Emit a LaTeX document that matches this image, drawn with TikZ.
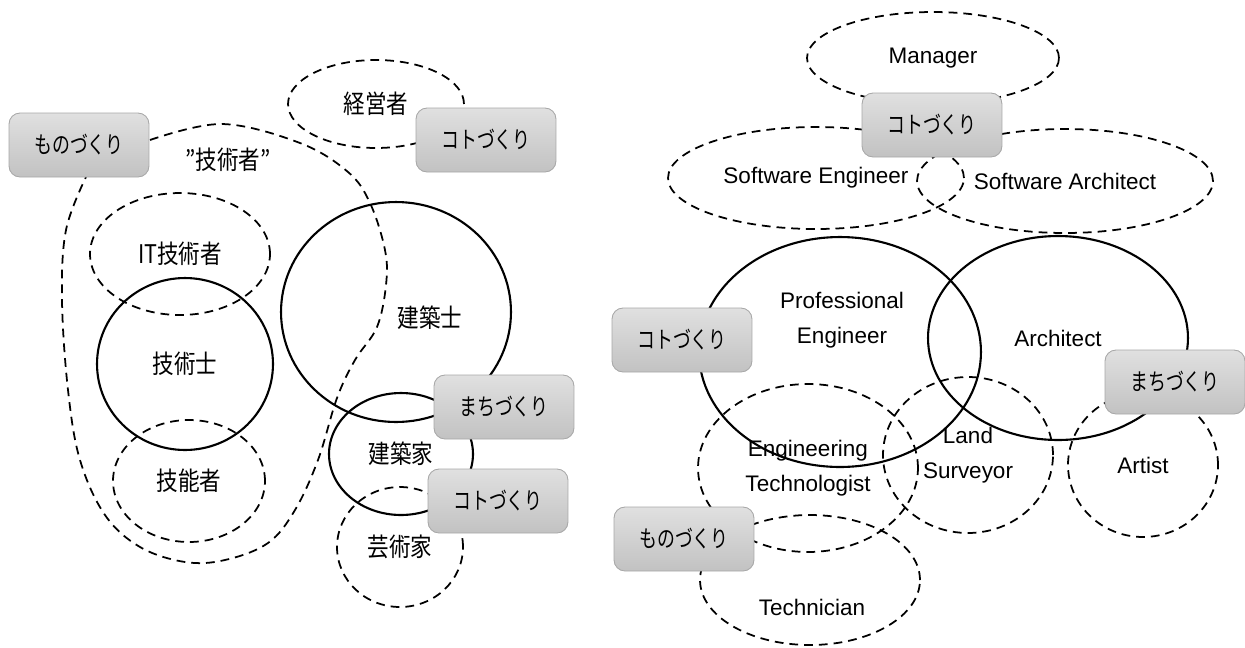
\documentclass[tikz,border=0pt]{standalone}
\usepackage{fontspec}
\setmainfont{Liberation Sans}
\newfontfamily\jpfont[FakeStretch=0.84]{Noto Sans CJK JP}
\newfontfamily\tagfont[FakeStretch=0.76]{Noto Sans CJK JP}
\usetikzlibrary{shapes.geometric}
\definecolor{tagTop}{RGB}{224,224,224}
\definecolor{tagBottom}{RGB}{194,194,194}
\definecolor{tagLine}{RGB}{168,168,168}
\tikzset{
    base/.style={
        font=\fontsize{12.8}{20}\selectfont,
        align=center,
        text=black
    },
    jp/.style={
        font=\jpfont\fontsize{14.6}{16}\selectfont
    },
    ring/.style={
        base,
        ellipse,
        draw=black,
        line width=1.2pt,
        inner sep=0pt
    },
    dashring/.style={
        base,
        ellipse,
        draw=black,
        line width=1pt,
        dash pattern=on 5pt off 3.4pt,
        inner sep=0pt
    },
    blob/.style={
        draw=black,
        line width=1pt,
        dash pattern=on 5pt off 3.4pt
    },
    tag/.style={
        rectangle,
        rounded corners=2.2mm,
        draw=tagLine,
        line width=0.5pt,
        top color=tagTop,
        bottom color=tagBottom,
        minimum width=2.8cm,
        minimum height=1.28cm,
        inner sep=0pt,
        font=\tagfont\fontsize{13.4}{15}\selectfont
    },
    txt/.style={
        base,
        inner sep=1pt
    }
}

\begin{document}
\begin{tikzpicture}[x=0.02cm, y=-0.02cm]
  \useasboundingbox (0,0) rectangle (1245,647);

  % Left: Japanese roles
  \node[dashring, jp, minimum width=3.52cm, minimum height=1.76cm] (keiei) at (376,104) {経営者};
  \node[dashring, jp, minimum width=3.6cm, minimum height=2.44cm] (itgi) at (180,254) {IT技術者};
  \node[ring, jp, minimum width=3.52cm, minimum height=3.44cm] (gishi) at (185,364) {技術士};
  \node[dashring, jp, minimum width=3.04cm, minimum height=2.44cm] (ginou) at (189,481) {技能者};
  \node[ring, minimum width=4.6cm, minimum height=4.4cm] (kshi) at (396,312) {};
  \node[txt, jp] (kshiL) at (430,318) {建築士};
  \node[ring, jp, minimum width=2.88cm, minimum height=2.44cm] (kka) at (401,454) {建築家};
  \node[dashring, jp, minimum width=2.52cm, minimum height=2.4cm] (geika) at (400,547) {芸術家};

  % "engineer" region
  \draw[blob] plot[smooth, tension=0.6] coordinates {
    (150,140) (222,124) (300,143) (348,172) (370,203) (385,250) (386,285)
    (377,327) (355,360) (337,398) (318,460) (295,510) (268,543) (225,560)
    (185,562) (140,547) (105,515) (80,460) (68,390) (62,300) (66,230) (86,177)};
  \node[txt, jp] (gisha) at (228,160) {”技術者”};

  % Left tags
  \node[tag] (mono1) at (79,145) {ものづくり};
  \node[tag] (koto1) at (486,140) {コトづくり};
  \node[tag] (machi1) at (504,407) {まちづくり};
  \node[tag] (koto2) at (498,501) {コトづくり};

  % Right: English roles
  \node[dashring, minimum width=5.04cm, minimum height=1.84cm] (mgr) at (933,58) {Manager};
  \node[dashring, minimum width=5.92cm, minimum height=2.04cm] (swe) at (816,178) {Software Engineer};
  \node[dashring, minimum width=5.92cm, minimum height=2.08cm] (swa) at (1065,181) {Software Architect};
  \node[ring, minimum width=5.64cm, minimum height=4.6cm] (pe) at (840,352) {};
  \node[txt] (peL) at (842,320) {Professional\\Engineer};
  \node[ring, minimum width=5.2cm, minimum height=4.08cm] (arch) at (1058,338) {Architect};
  \node[dashring, minimum width=4.4cm, minimum height=3.36cm] (et) at (808,468) {Engineering\\Technologist};
  \node[dashring, minimum width=3.4cm, minimum height=3.12cm] (ls) at (968,455) {Land\\Surveyor};
  \node[dashring, minimum width=3.0cm, minimum height=2.88cm] (art) at (1143,465) {Artist};
  \node[dashring, minimum width=4.4cm, minimum height=2.6cm] (tech) at (810,580) {};
  \node[txt] (techL) at (812,607) {Technician};

  % Right tags
  \node[tag] (koto3) at (932,125) {コトづくり};
  \node[tag] (koto4) at (682,340) {コトづくり};
  \node[tag] (machi2) at (1175,382) {まちづくり};
  \node[tag] (mono2) at (684,539) {ものづくり};
\end{tikzpicture}
\end{document}
